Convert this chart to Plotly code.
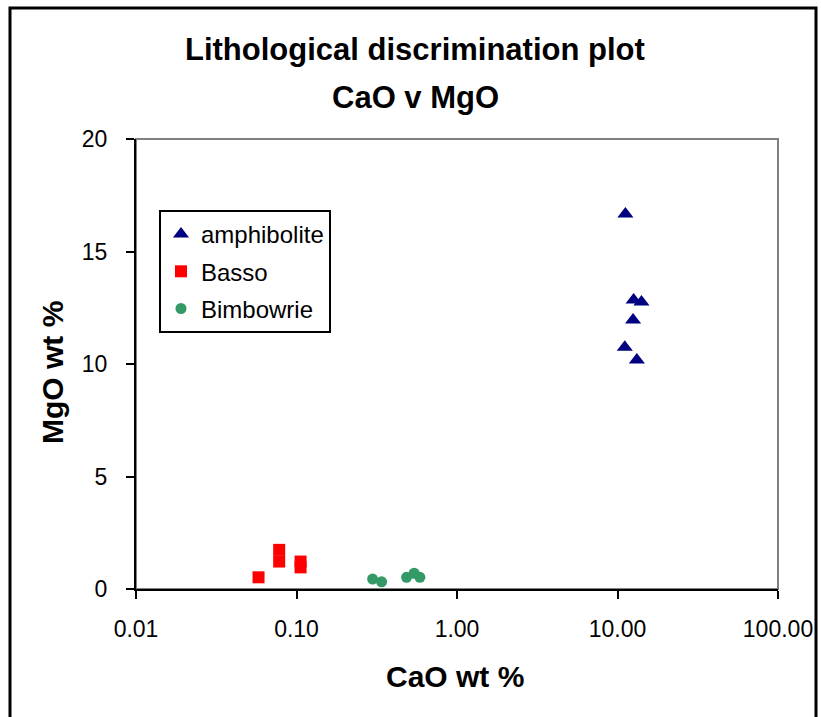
import plotly.graph_objects as go

# CaO (wt %) and MgO (wt %) by lithology
amph_cao = [11.2, 12.6, 14.1, 12.5, 11.1, 13.2]
amph_mgo = [16.67, 12.84, 12.76, 11.96, 10.74, 10.18]

basso_cao = [0.058, 0.078, 0.078, 0.106, 0.106]
basso_mgo = [0.52, 1.74, 1.22, 1.22, 0.96]

bimb_cao = [0.298, 0.339, 0.485, 0.541, 0.587]
bimb_mgo = [0.44, 0.32, 0.52, 0.70, 0.52]

x_tickvals = [0.01, 0.1, 1, 10, 100]
x_ticktext = ["0.01", "0.10", "1.00", "10.00", "100.00"]
y_tickvals = [0, 5, 10, 15, 20]

FONT = "Liberation Sans, Arial, sans-serif"

fig = go.Figure()
fig.add_trace(go.Scatter(
    x=amph_cao, y=amph_mgo, mode="markers", name="amphibolite",
    legendgroup="a",
    marker=dict(symbol="triangle-up", size=14, color="#000080"),
))
fig.add_trace(go.Scatter(
    x=basso_cao, y=basso_mgo, mode="markers", name="Basso",
    legendgroup="b",
    marker=dict(symbol="square", size=12, color="#FF0000"),
))
fig.add_trace(go.Scatter(
    x=bimb_cao, y=bimb_mgo, mode="markers", name="Bimbowrie",
    legendgroup="c",
    marker=dict(symbol="circle", size=11, color="#339966"),
))

W, H = 821, 717
L, R, T, B = 136, 43, 139, 128
pw, ph = W - L - R, H - T - B


def px_x(px):
    return (px - L) / pw


def px_y(py):
    return (H - B - py) / ph


fig.update_layout(
    width=W, height=H,
    margin=dict(l=L, r=R, t=T, b=B, pad=0, autoexpand=False),
    paper_bgcolor="white", plot_bgcolor="white",
    font=dict(family=FONT, color="black", size=21),
    showlegend=True,
    legend=dict(
        x=px_x(159), y=px_y(210), xanchor="left", yanchor="top",
        bordercolor="black", borderwidth=2, bgcolor="white",
        font=dict(family=FONT, size=24, color="black"),
        tracegroupgap=3, itemwidth=30,
    ),
    xaxis=dict(
        type="log", range=[-2, 2], automargin=False,
        tickvals=x_tickvals, ticktext=x_ticktext,
        showgrid=False, zeroline=False,
        showline=True, linecolor="black", linewidth=2,
        ticks="outside", ticklen=8, tickwidth=2, tickcolor="black",
        tickfont=dict(family=FONT, size=23, color="black"),
        ticklabelstandoff=10,
    ),
    yaxis=dict(
        range=[0, 20], tickvals=y_tickvals, automargin=False,
        showgrid=False, zeroline=False,
        showline=True, linecolor="black", linewidth=2,
        ticks="outside", ticklen=8, tickwidth=2, tickcolor="black",
        tickfont=dict(family=FONT, size=23, color="black"),
        ticklabelstandoff=14,
    ),
    shapes=[
        # plot-area frame (grey top/right edges)
        dict(type="rect", xref="paper", yref="paper", x0=0, x1=1, y0=0, y1=1,
             line=dict(color="#808080", width=2), layer="below"),
        # chart outer border
        dict(type="rect", xref="paper", yref="paper",
             x0=px_x(10), x1=px_x(816), y0=px_y(740), y1=px_y(8),
             line=dict(color="black", width=3), fillcolor="rgba(0,0,0,0)",
             layer="above"),
    ],
    annotations=[
        dict(text="<b>Lithological discrimination plot</b>", xref="paper", yref="paper",
             x=px_x(415), y=px_y(50), showarrow=False, xanchor="center", yanchor="middle",
             font=dict(family=FONT, size=31, color="black")),
        dict(text="<b>CaO v MgO</b>", xref="paper", yref="paper",
             x=px_x(415), y=px_y(97), showarrow=False, xanchor="center", yanchor="middle",
             font=dict(family=FONT, size=31, color="black")),
        dict(text="<b>CaO wt %</b>", xref="paper", yref="paper",
             x=px_x(455), y=px_y(676), showarrow=False, xanchor="center", yanchor="middle",
             font=dict(family=FONT, size=30, color="black")),
        dict(text="<b>MgO wt %</b>", xref="paper", yref="paper",
             x=px_x(52), y=px_y(373), showarrow=False, xanchor="center", yanchor="middle",
             textangle=-90,
             font=dict(family=FONT, size=30, color="black")),
    ],
)

fig.write_html("out.html")
